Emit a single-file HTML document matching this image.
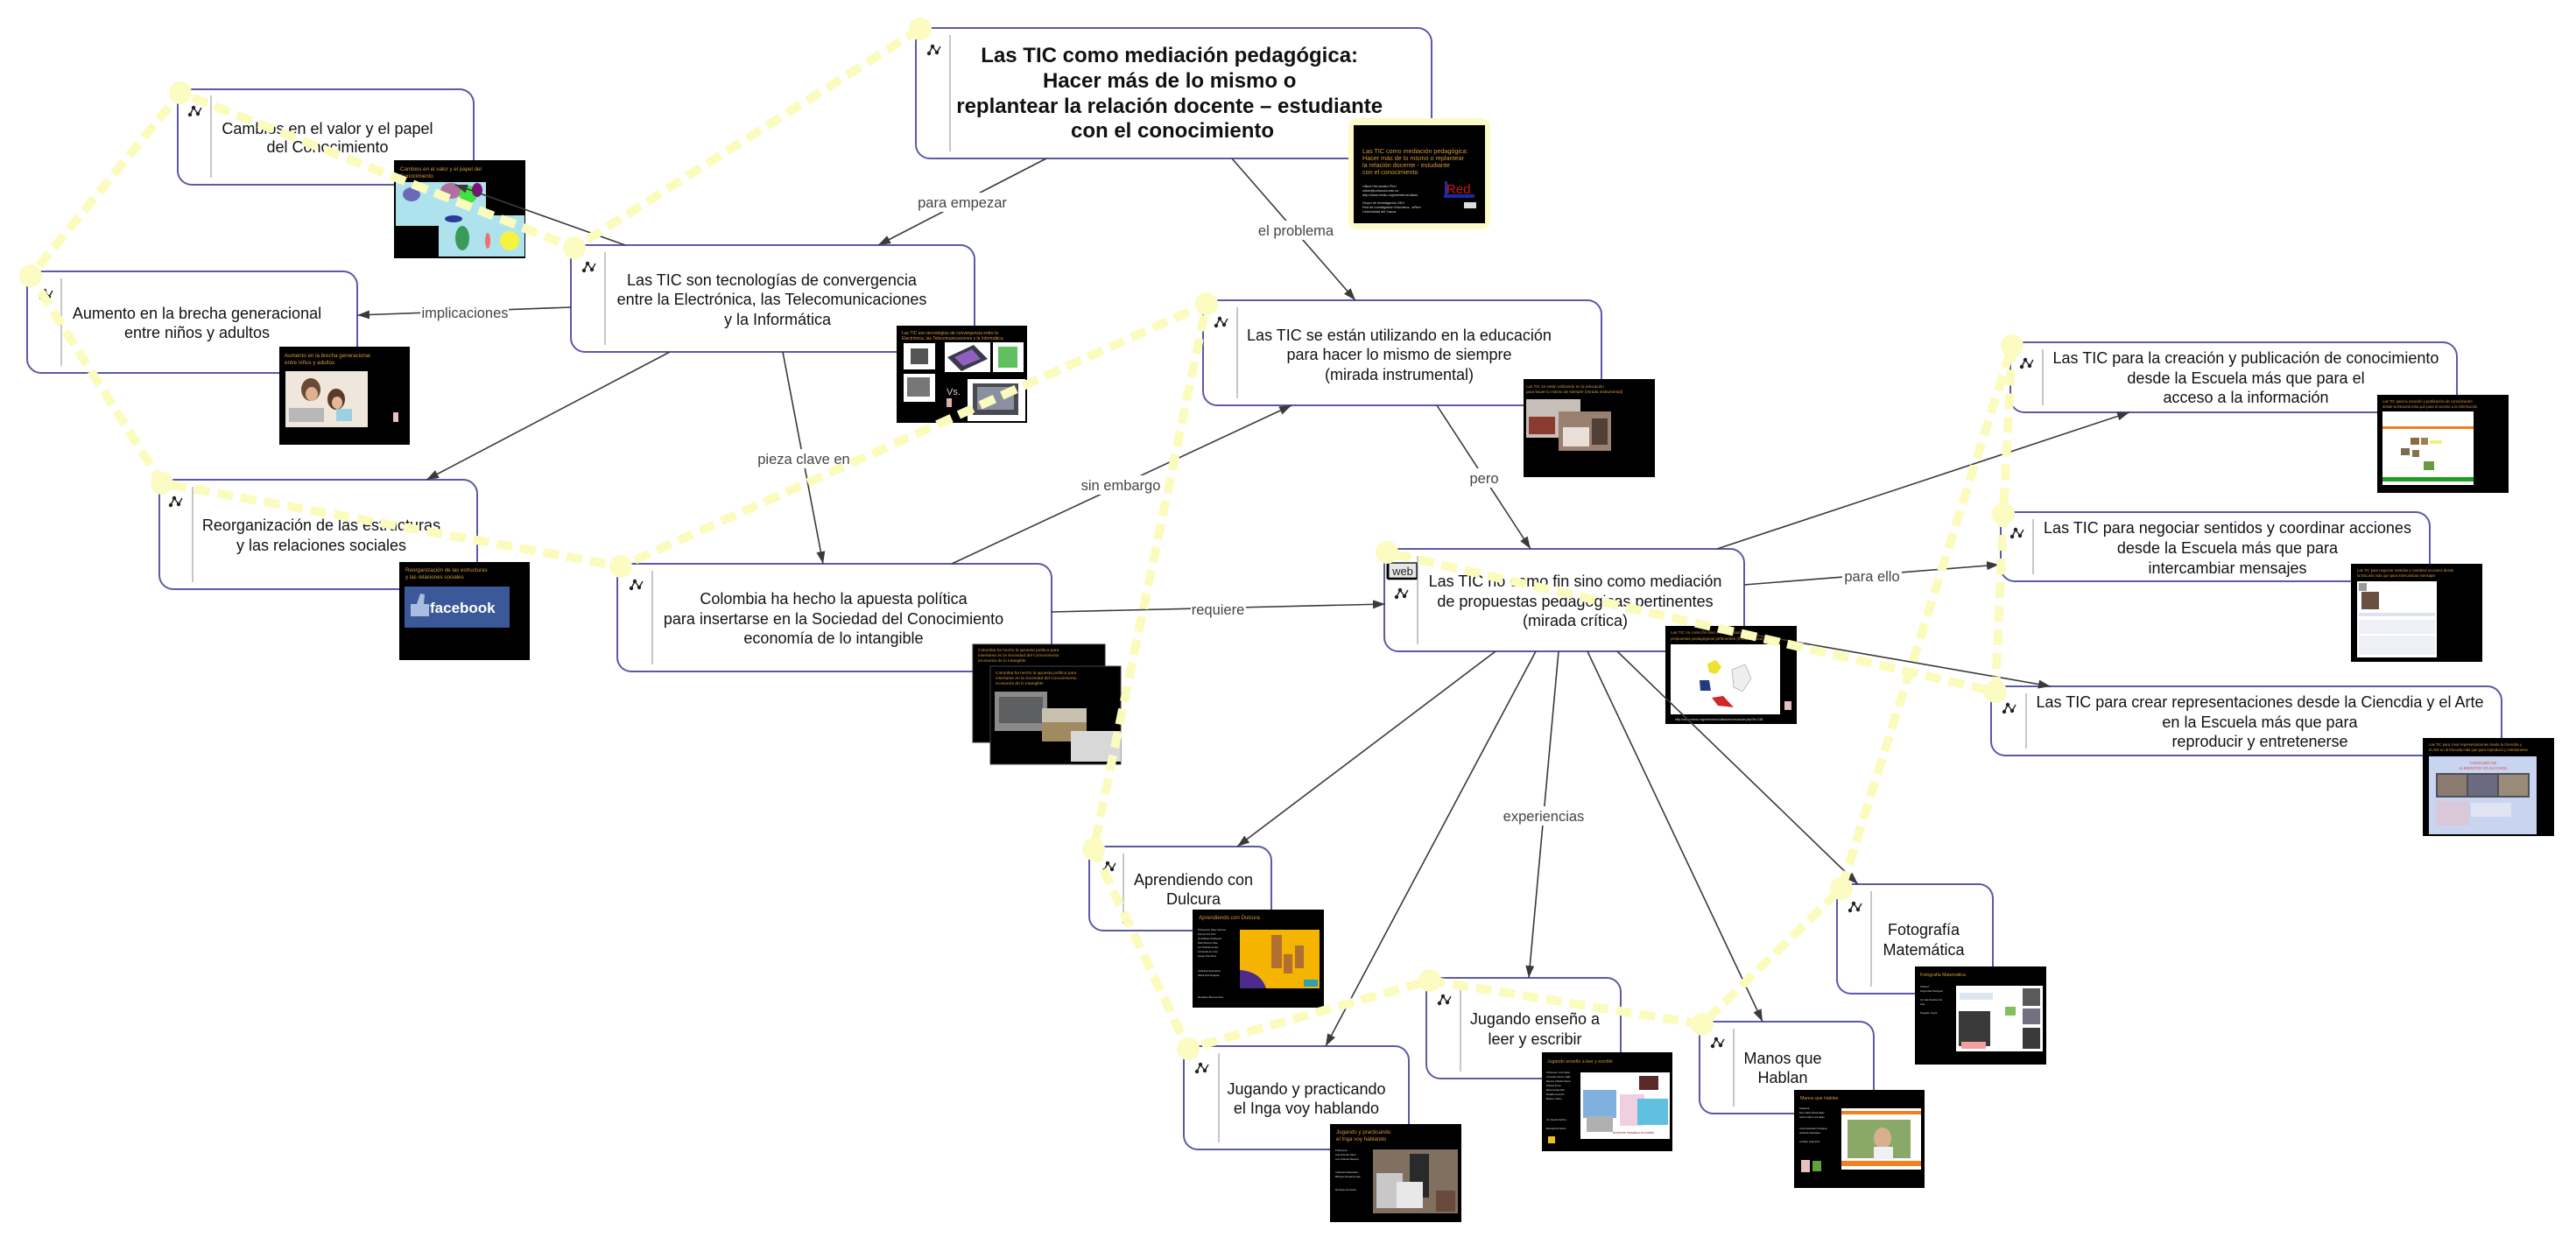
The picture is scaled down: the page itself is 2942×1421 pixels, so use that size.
<!DOCTYPE html>
<html><head><meta charset="utf-8"><style>
html,body{margin:0;padding:0;background:#fff;}
body{width:2942px;height:1421px;overflow:hidden;}
svg{display:block;font-family:"Liberation Sans",Arial,sans-serif;}
.nt{font-size:18px;fill:#111;}
.lb{font-size:16.5px;fill:#444;}
.tt{fill:#d29a3c;}
.tw{fill:#ddd;}
</style></head><body>
<svg width="2942" height="1421" viewBox="0 0 2942 1421" xmlns="http://www.w3.org/2000/svg">
<defs>
<marker id="ah" markerUnits="userSpaceOnUse" markerWidth="16" markerHeight="12" refX="14" refY="5" orient="auto">
<path d="M0,0 L14,5 L0,10 z" fill="#3a3a3a"/>
</marker>
<g id="ic"><polyline points="-6,4 -2,-4 3,3 7,-4" fill="none" stroke="#222" stroke-width="1.4"/><circle cx="-6" cy="4" r="2.2" fill="#222"/><circle cx="-2" cy="-4" r="2.2" fill="#222"/><circle cx="3" cy="3" r="2.2" fill="#222"/></g>
</defs>

<!-- ============ NODES ============ -->
<g fill="#fff" stroke="#5a5aa8" stroke-width="2">
<rect x="1046" y="32" width="589" height="149" rx="16"/>
<rect x="652" y="280" width="461" height="122" rx="16"/>
<rect x="203" y="102" width="338" height="109" rx="16"/>
<rect x="31" y="310" width="377" height="116" rx="16"/>
<rect x="182" y="548" width="363" height="125" rx="16"/>
<rect x="705" y="644" width="496" height="123" rx="16"/>
<rect x="1374" y="343" width="455" height="120" rx="16"/>
<rect x="1581" y="627" width="411" height="117" rx="16"/>
<rect x="2296" y="391" width="510" height="80" rx="16"/>
<rect x="2285" y="585" width="490" height="79" rx="16"/>
<rect x="2274" y="784" width="583" height="79" rx="16"/>
<rect x="1244" y="967" width="208" height="96" rx="16"/>
<rect x="1352" y="1195" width="257" height="118" rx="16"/>
<rect x="1629" y="1117" width="222" height="115" rx="16"/>
<rect x="1941" y="1167" width="199" height="105" rx="16"/>
<rect x="2098" y="1010" width="178" height="125" rx="16"/>
</g>
<g stroke="#b4b4b4" stroke-width="1.5">
<line x1="1085" y1="40" x2="1085" y2="173"/>
<line x1="691" y1="288" x2="691" y2="394"/>
<line x1="241" y1="109" x2="241" y2="203"/>
<line x1="70" y1="318" x2="70" y2="418"/>
<line x1="220" y1="556" x2="220" y2="665"/>
<line x1="745" y1="652" x2="745" y2="759"/>
<line x1="1413" y1="351" x2="1413" y2="455"/>
<line x1="1619" y1="635" x2="1619" y2="736"/>
<line x1="2333" y1="399" x2="2333" y2="463"/>
<line x1="2322" y1="593" x2="2322" y2="656"/>
<line x1="2314" y1="792" x2="2314" y2="855"/>
<line x1="1283" y1="975" x2="1283" y2="1055"/>
<line x1="1392" y1="1203" x2="1392" y2="1305"/>
<line x1="1668" y1="1125" x2="1668" y2="1224"/>
<line x1="1980" y1="1175" x2="1980" y2="1264"/>
<line x1="2137" y1="1018" x2="2137" y2="1127"/>
</g>
<!-- icons -->
<use href="#ic" x="1067" y="57"/>
<use href="#ic" x="673" y="305"/>
<use href="#ic" x="223" y="127"/>
<use href="#ic" x="53" y="336"/>
<use href="#ic" x="201" y="573"/>
<use href="#ic" x="727" y="668"/>
<use href="#ic" x="1395" y="368"/>
<use href="#ic" x="1601" y="678"/>
<use href="#ic" x="2315" y="415"/>
<use href="#ic" x="2304" y="609"/>
<use href="#ic" x="2295" y="809"/>
<use href="#ic" x="1267" y="990"/>
<use href="#ic" x="1373" y="1220"/>
<use href="#ic" x="1650" y="1142"/>
<use href="#ic" x="1962" y="1191"/>
<use href="#ic" x="2119" y="1036"/>
<!-- web icon -->
<rect x="1585" y="643" width="33" height="18" fill="#e6e6e6" stroke="#222" stroke-width="1.5"/>
<line x1="1585" y1="643" x2="1585" y2="661" stroke="#000" stroke-width="3"/>
<line x1="1585" y1="661" x2="1618" y2="661" stroke="#000" stroke-width="2.5"/>
<text x="1602" y="657" font-size="13" fill="#222" text-anchor="middle">web</text>

<!-- node texts -->
<text x="1339" text-anchor="middle" font-size="24" font-weight="bold" fill="#111">
<tspan x="1339" y="71">Las TIC como mediación pedagógica:</tspan>
<tspan x="1339" y="100">Hacer más de lo mismo o</tspan>
<tspan x="1339" y="129">replantear la relación docente – estudiante</tspan>
<tspan x="1339" y="157">con el conocimiento</tspan>
</text>
<text class="nt" text-anchor="middle">
<tspan x="884" y="326">Las TIC son tecnologías de convergencia</tspan>
<tspan x="884" y="348">entre la Electrónica, las Telecomunicaciones</tspan>
<tspan x="888" y="371">y la Informática</tspan>
</text>
<text class="nt" text-anchor="middle"><tspan x="374" y="153">Cambios en el valor y el papel</tspan><tspan x="374" y="174">del Conocimiento</tspan></text>
<text class="nt" text-anchor="middle"><tspan x="225" y="364">Aumento en la brecha generacional</tspan><tspan x="225" y="386">entre niños y adultos</tspan></text>
<text class="nt" text-anchor="middle"><tspan x="367" y="606">Reorganización de las estructuras</tspan><tspan x="367" y="629">y las relaciones sociales</tspan></text>
<text class="nt" text-anchor="middle"><tspan x="952" y="690">Colombia ha hecho la apuesta política</tspan><tspan x="952" y="713">para insertarse en la Sociedad del Conocimiento</tspan><tspan x="952" y="735">economía de lo intangible</tspan></text>
<text class="nt" text-anchor="middle"><tspan x="1598" y="389">Las TIC se están utilizando en la educación</tspan><tspan x="1598" y="411">para hacer lo mismo de siempre</tspan><tspan x="1598" y="434">(mirada instrumental)</tspan></text>
<text class="nt" text-anchor="middle"><tspan x="1799" y="670">Las TIC no como fin sino como mediación</tspan><tspan x="1799" y="693">de propuestas pedagógicas pertinentes</tspan><tspan x="1799" y="715">(mirada crítica)</tspan></text>
<text class="nt" text-anchor="middle"><tspan x="2565" y="415">Las TIC para la creación y publicación de conocimiento</tspan><tspan x="2565" y="438">desde la Escuela más que para el</tspan><tspan x="2565" y="460">acceso a la información</tspan></text>
<text class="nt" text-anchor="middle"><tspan x="2544" y="609">Las TIC para negociar sentidos y coordinar acciones</tspan><tspan x="2544" y="632">desde la Escuela más que para</tspan><tspan x="2544" y="655">intercambiar mensajes</tspan></text>
<text class="nt" text-anchor="middle"><tspan x="2581" y="808">Las TIC para crear representaciones desde la Ciencdia y el Arte</tspan><tspan x="2581" y="831">en la Escuela más que para</tspan><tspan x="2581" y="853">reproducir y entretenerse</tspan></text>
<text class="nt" text-anchor="middle"><tspan x="1363" y="1011">Aprendiendo con</tspan><tspan x="1363" y="1033">Dulcura</tspan></text>
<text class="nt" text-anchor="middle"><tspan x="1492" y="1250">Jugando y practicando</tspan><tspan x="1492" y="1272">el Inga voy hablando</tspan></text>
<text class="nt" text-anchor="middle"><tspan x="1753" y="1170">Jugando enseño a</tspan><tspan x="1753" y="1193">leer y escribir</tspan></text>
<text class="nt" text-anchor="middle"><tspan x="2036" y="1215">Manos que</tspan><tspan x="2036" y="1237">Hablan</tspan></text>
<text class="nt" text-anchor="middle"><tspan x="2197" y="1068">Fotografía</tspan><tspan x="2197" y="1091">Matemática</tspan></text>

<!-- ============ THUMBNAILS ============ -->
<!-- main -->
<rect x="1540" y="135" width="162" height="127" rx="10" fill="#fbfbc6"/>
<rect x="1546" y="143" width="150" height="112" fill="#000"/>
<text class="tt" font-size="7.2"><tspan x="1556" y="175">Las TIC como mediación pedagógica:</tspan><tspan x="1556" y="183">Hacer más de lo mismo o replantear</tspan><tspan x="1556" y="191">la relación docente - estudiante</tspan><tspan x="1556" y="199">con el conocimiento</tspan></text>
<text class="tw" font-size="3.8"><tspan x="1556" y="214">Ulises Hernández Pino</tspan><tspan x="1556" y="219">ulises@unicauca.edu.co</tspan><tspan x="1556" y="224">http://www.eredu.org/miembros/ulises</tspan><tspan x="1556" y="233">Grupo de Investigación GEC</tspan><tspan x="1556" y="238">Red de Investigación Educativa - ieRed</tspan><tspan x="1556" y="243">Universidad del Cauca</tspan></text>
<text x="1652" y="221" font-size="15" fill="#d01818">Red</text>
<rect x="1650" y="207" width="3" height="15" fill="#2030a0"/>
<rect x="1649" y="222" width="35" height="4" fill="#1a2aa0"/>
<rect x="1672" y="231" width="14" height="7" fill="#ddd"/>

<!-- Cambios -->
<rect x="450" y="183" width="150" height="112" fill="#000"/>
<text class="tt" font-size="6.2"><tspan x="457" y="195">Cambios en el valor y el papel del</tspan><tspan x="457" y="203">Conocimiento</tspan></text>
<rect x="452" y="208" width="103" height="50" fill="#aee3ee"/>
<ellipse cx="470" cy="222" rx="10" ry="8" fill="#6a6ab8"/>
<ellipse cx="515" cy="218" rx="12" ry="9" fill="#b070a0"/>
<ellipse cx="535" cy="222" rx="10" ry="10" fill="#40e040"/>
<ellipse cx="545" cy="217" rx="6" ry="8" fill="#801080"/>
<rect x="501" y="246" width="98" height="47" fill="#aee3ee"/>
<ellipse cx="528" cy="272" rx="8" ry="14" fill="#3a9a5a"/>
<ellipse cx="582" cy="275" rx="11" ry="11" fill="#f4f440"/>
<ellipse cx="557" cy="275" rx="3" ry="9" fill="#f07070"/>
<ellipse cx="518" cy="250" rx="10" ry="4" fill="#2a3a9a"/>

<!-- Aumento -->
<rect x="319" y="396" width="149" height="112" fill="#000"/>
<text class="tt" font-size="6.2"><tspan x="325" y="408">Aumento en la brecha generacional</tspan><tspan x="325" y="416">entre niños y adultos</tspan></text>
<rect x="326" y="424" width="94" height="64" fill="#efe6dc"/>
<ellipse cx="355" cy="445" rx="11" ry="13" fill="#6b4a35"/>
<ellipse cx="384" cy="456" rx="10" ry="12" fill="#5a3a28"/>
<rect x="330" y="466" width="40" height="16" fill="#b8b8b8"/>
<ellipse cx="356" cy="450" rx="7" ry="8" fill="#e0b090"/>
<ellipse cx="385" cy="460" rx="6" ry="7" fill="#e6b898"/>
<rect x="384" y="467" width="18" height="14" fill="#9ad0e0"/>
<rect x="449" y="471" width="6" height="11" fill="#e8c0c0"/>

<!-- Conv -->
<rect x="1024" y="372" width="149" height="111" fill="#000"/>
<text class="tt" font-size="5"><tspan x="1030" y="382">Las TIC son tecnologías de convergencia entre la</tspan><tspan x="1030" y="388">Electrónica, las Telecomunicaciones y la Informática</tspan></text>
<rect x="1032" y="392" width="36" height="30" fill="#fff"/>
<rect x="1040" y="398" width="20" height="18" fill="#555"/>
<rect x="1079" y="391" width="52" height="34" fill="#fff"/>
<polygon points="1082,408 1112,394 1128,410 1098,424" fill="#3a3a4a"/>
<polygon points="1090,408 1110,399 1120,410 1100,418" fill="#9060c0"/>
<rect x="1134" y="391" width="35" height="34" fill="#fff"/>
<rect x="1140" y="396" width="22" height="24" fill="#60c060"/>
<rect x="1032" y="427" width="36" height="32" fill="#fff"/>
<rect x="1036" y="431" width="26" height="22" fill="#777"/>
<text x="1081" y="451" font-size="11" fill="#ccc">Vs.</text>
<rect x="1081" y="455" width="6" height="10" fill="#e0b0b0"/>
<rect x="1105" y="433" width="66" height="48" fill="#fff"/>
<rect x="1111" y="438" width="52" height="36" fill="#4a4a52"/>
<rect x="1116" y="442" width="42" height="26" fill="#8a90a0"/>

<!-- Reorg -->
<rect x="456" y="642" width="149" height="112" fill="#000"/>
<text class="tt" font-size="6.2"><tspan x="463" y="653">Reorganización de las estructuras</tspan><tspan x="463" y="661">y las relaciones sociales</tspan></text>
<rect x="462" y="670" width="120" height="47" fill="#3b5998"/>
<path d="M469,702 L469,690 L476,690 L480,678 L485,679 L484,690 L490,690 L490,704 L469,704 z" fill="#a8bde0"/>
<text x="491" y="700" font-size="17" font-weight="bold" fill="#fff">facebook</text>

<!-- Colombia thumbnails -->
<rect x="1111" y="736" width="151" height="112" fill="#000" stroke="#333" stroke-width="1"/>
<text class="tt" font-size="4.8"><tspan x="1117" y="744">Colombia ha hecho la apuesta política para</tspan><tspan x="1117" y="750">insertarse en la Sociedad del Conocimiento</tspan><tspan x="1117" y="756">economía de lo intangible</tspan></text>
<rect x="1131" y="761" width="149" height="112" fill="#000" stroke="#444" stroke-width="1"/>
<text class="tt" font-size="4.8"><tspan x="1137" y="770">Colombia ha hecho la apuesta política para</tspan><tspan x="1137" y="776">insertarse en la Sociedad del Conocimiento</tspan><tspan x="1137" y="782">economía de lo intangible</tspan></text>
<rect x="1136" y="790" width="60" height="45" fill="#8a8a88"/>
<rect x="1141" y="796" width="50" height="30" fill="#5d5f60"/>
<rect x="1190" y="809" width="51" height="38" fill="#a08a60"/>
<rect x="1190" y="809" width="51" height="16" fill="#c8c0b0"/>
<rect x="1223" y="835" width="57" height="35" fill="#d8d8d8"/>

<!-- SeEstan -->
<rect x="1740" y="433" width="150" height="112" fill="#000"/>
<text class="tt" font-size="4.6"><tspan x="1743" y="443">Las TIC se están utilizando en la educación</tspan><tspan x="1743" y="449">para hacer lo mismo de siempre (mirada instrumental)</tspan></text>
<rect x="1743" y="456" width="62" height="44" fill="#c8c0b8"/>
<rect x="1746" y="476" width="30" height="20" fill="#8a3a30"/>
<rect x="1780" y="470" width="60" height="45" fill="#9a8070"/>
<rect x="1785" y="488" width="30" height="22" fill="#e8e0d8"/>
<rect x="1818" y="478" width="18" height="30" fill="#504038"/>

<!-- NoComo -->
<rect x="1902" y="715" width="150" height="112" fill="#000"/>
<text class="tt" font-size="4.6"><tspan x="1908" y="724">Las TIC no como fin sino como mediación de</tspan><tspan x="1908" y="731">propuestas pedagógicas pertinentes (mirada crítica)</tspan></text>
<rect x="1908" y="736" width="125" height="80" fill="#fff"/>
<polygon points="1950,758 1960,754 1966,762 1960,770 1952,768" fill="#f0e030"/>
<polygon points="1941,777 1952,777 1954,789 1942,789" fill="#223a80"/>
<polygon points="1955,797 1968,795 1980,808 1962,806" fill="#d02828"/>
<polygon points="1978,765 1993,759 2000,775 1990,790 1980,785" fill="#eee" stroke="#999" stroke-width="0.6"/>
<rect x="2038" y="801" width="8" height="10" fill="#e0c0c0"/>
<text x="1913" y="823" font-size="3.6" fill="#ddd">http://www.eredu.org/miembros/ulises/recursos/ver.php?id=138</text>

<!-- Creacion -->
<rect x="2715" y="451" width="150" height="112" fill="#000"/>
<text class="tt" font-size="4.2"><tspan x="2721" y="460">Las TIC para la creación y publicación de conocimiento</tspan><tspan x="2721" y="466">desde la Escuela más que para el acceso a la información</tspan></text>
<rect x="2721" y="470" width="104" height="84" fill="#fff"/>
<rect x="2721" y="487" width="104" height="3" fill="#f08020"/>
<rect x="2721" y="545" width="104" height="5" fill="#20a020"/>
<rect x="2753" y="500" width="10" height="8" fill="#8a6a40"/>
<rect x="2765" y="500" width="8" height="8" fill="#a08050"/>
<rect x="2775" y="503" width="14" height="4" fill="#f0f080"/>
<rect x="2742" y="512" width="10" height="8" fill="#7a6a50"/>
<rect x="2755" y="514" width="8" height="8" fill="#8a7050"/>
<rect x="2768" y="527" width="12" height="10" fill="#6a9a40"/>

<!-- Negociar -->
<rect x="2685" y="644" width="150" height="112" fill="#000"/>
<text class="tt" font-size="4.2"><tspan x="2692" y="653">Las TIC para negociar sentidos y coordinar acciones desde</tspan><tspan x="2692" y="659">la Escuela más que para intercambiar mensajes</tspan></text>
<rect x="2692" y="664" width="91" height="87" fill="#fff"/>
<rect x="2694" y="666" width="9" height="9" fill="#999"/>
<rect x="2697" y="676" width="20" height="20" fill="#6a5040"/>
<rect x="2694" y="700" width="87" height="4" fill="#dde4f0"/>
<rect x="2694" y="708" width="87" height="16" fill="#eef0f6"/>
<rect x="2694" y="726" width="87" height="22" fill="#eef0f6"/>

<!-- Crear -->
<rect x="2767" y="843" width="150" height="112" fill="#000"/>
<text class="tt" font-size="4.2"><tspan x="2774" y="852">Las TIC para crear representaciones desde la Ciencdia y</tspan><tspan x="2774" y="858">el Arte en la Escuela más que para reproducir y entretenerse</tspan></text>
<rect x="2774" y="864" width="123" height="89" fill="#c8d4f0"/>
<text x="2836" y="873" font-size="4.5" fill="#d05050" text-anchor="middle">CONSUMO DE</text>
<text x="2836" y="879" font-size="4.5" fill="#d05050" text-anchor="middle">ALIMENTOS VS ALCOHOL</text>
<rect x="2782" y="883" width="107" height="28" fill="#505058"/>
<rect x="2784" y="885" width="33" height="24" fill="#8a7a70"/>
<rect x="2819" y="885" width="33" height="24" fill="#6a6a80"/>
<rect x="2854" y="885" width="33" height="24" fill="#9a8a78"/>
<rect x="2782" y="915" width="38" height="28" fill="#d8c8d8"/>
<rect x="2822" y="917" width="46" height="16" fill="#e0e4f4"/>

<!-- Aprend -->
<rect x="1362" y="1039" width="150" height="112" fill="#000"/>
<text class="tt" font-size="6.2" x="1369" y="1050">Aprendiendo con Dulcura</text>
<text class="tw" font-size="2.8"><tspan x="1368" y="1063">Profesores: Mary Carmen</tspan><tspan x="1368" y="1068">Fanny Inés Cruz</tspan><tspan x="1368" y="1073">Guadalupe Rodríguez</tspan><tspan x="1368" y="1078">Ruth Moreno Días</tspan><tspan x="1368" y="1083">Luz Patricia Cortez</tspan><tspan x="1368" y="1088">Fernando de Lima</tspan><tspan x="1368" y="1093">Sergio Díaz Ruiz</tspan><tspan x="1368" y="1110">Institución Educativa</tspan><tspan x="1368" y="1115">Santa Ana Popayán</tspan><tspan x="1368" y="1140">Municipio Buenos Aires</tspan></text>
<rect x="1416" y="1062" width="91" height="67" fill="#f4b400"/>
<path d="M1416,1108 Q1440,1110 1446,1129 L1416,1129 z" fill="#4a2a8a"/>
<rect x="1452" y="1068" width="12" height="38" fill="#b07030"/>
<rect x="1466" y="1090" width="10" height="22" fill="#b07030"/>
<rect x="1479" y="1080" width="10" height="26" fill="#b07030"/>
<rect x="1489" y="1119" width="16" height="8" fill="#30a0b0"/>

<!-- Inga -->
<rect x="1519" y="1284" width="150" height="112" fill="#000"/>
<text class="tt" font-size="6.2"><tspan x="1526" y="1295">Jugando y practicando</tspan><tspan x="1526" y="1303">el Inga voy hablando</tspan></text>
<text class="tw" font-size="2.8"><tspan x="1525" y="1315">Profesores:</tspan><tspan x="1525" y="1320">Ana Victoria Chicre</tspan><tspan x="1525" y="1325">Luis Orlando Mavisoy</tspan><tspan x="1525" y="1340">Institución Educativa</tspan><tspan x="1525" y="1345">Bilingüe Artesanal Inga</tspan><tspan x="1525" y="1360">Municipio El Tambo</tspan></text>
<rect x="1568" y="1313" width="97" height="73" fill="#807060"/>
<rect x="1572" y="1340" width="30" height="40" fill="#c8c8c8"/>
<rect x="1610" y="1318" width="22" height="50" fill="#2a2a2a"/>
<rect x="1595" y="1350" width="30" height="30" fill="#e8e8e8"/>
<rect x="1640" y="1360" width="22" height="24" fill="#6a4a3a"/>

<!-- Ense -->
<rect x="1761" y="1202" width="149" height="113" fill="#000"/>
<text class="tt" font-size="5.2" x="1767" y="1214">Jugando enseño a leer y escribir</text>
<text class="tw" font-size="2.6"><tspan x="1766" y="1226">Profesores: Luis Carlos</tspan><tspan x="1766" y="1231">Consuelo Gómez, Idalia</tspan><tspan x="1766" y="1236">Maryluz Ordóñez Sarria</tspan><tspan x="1766" y="1241">Rubiela Torres</tspan><tspan x="1766" y="1246">María Amalia Ruiz</tspan><tspan x="1766" y="1251">Rosalba Guerrero</tspan><tspan x="1766" y="1256">Marleny Castro</tspan><tspan x="1766" y="1280">I.E. Nuestra Señora</tspan><tspan x="1766" y="1290">Municipio El Tambo</tspan></text>
<rect x="1805" y="1225" width="102" height="76" fill="#fff"/>
<rect x="1808" y="1245" width="38" height="32" fill="#80b0e0"/>
<rect x="1850" y="1250" width="28" height="36" fill="#f0d0e0"/>
<rect x="1870" y="1255" width="35" height="30" fill="#60c0e0"/>
<rect x="1872" y="1229" width="22" height="16" fill="#5a2a2a"/>
<rect x="1812" y="1275" width="30" height="18" fill="#b0b0b0"/>
<text x="1842" y="1295" font-size="3.5" fill="#a02040">Ambiente educativo en Ambito</text>
<rect x="1768" y="1298" width="8" height="8" fill="#f0c020"/>

<!-- Manos -->
<rect x="2049" y="1245" width="149" height="112" fill="#000"/>
<text class="tt" font-size="5.2" x="2056" y="1256">Manos que Hablan</text>
<text class="tw" font-size="2.6"><tspan x="2055" y="1267">Profesora:</tspan><tspan x="2055" y="1272">Nury Isabel Rosas Rojas</tspan><tspan x="2055" y="1277">Héctor Fabio Luna Salas</tspan><tspan x="2055" y="1290">Centro Educativo Paraguas</tspan><tspan x="2055" y="1295">Institución Educativa</tspan><tspan x="2055" y="1305">La Plata, Huila 2011</tspan></text>
<rect x="2103" y="1266" width="91" height="70" fill="#fff"/>
<rect x="2103" y="1269" width="91" height="4" fill="#f08020"/>
<rect x="2103" y="1326" width="91" height="6" fill="#f08020"/>
<rect x="2110" y="1279" width="72" height="44" fill="#8aa868"/>
<ellipse cx="2150" cy="1300" rx="10" ry="12" fill="#d8b090"/>
<rect x="2140" y="1310" width="22" height="14" fill="#f0f0f0"/>
<rect x="2057" y="1325" width="10" height="14" fill="#e8c0c0"/>
<rect x="2070" y="1326" width="10" height="12" fill="#60a040"/>

<!-- Foto -->
<rect x="2187" y="1104" width="150" height="112" fill="#000"/>
<text class="tt" font-size="5.2" x="2193" y="1115">Fotografía Matemática</text>
<text class="tw" font-size="2.6"><tspan x="2193" y="1128">Profesor:</tspan><tspan x="2193" y="1133">Sergio Díaz Rodríguez</tspan><tspan x="2193" y="1143">I.E. San Francisco de</tspan><tspan x="2193" y="1148">Asís</tspan><tspan x="2193" y="1158">Popayán, Cauca</tspan></text>
<rect x="2234" y="1126" width="99" height="75" fill="#fff"/>
<rect x="2238" y="1134" width="38" height="8" fill="#dde6ee"/>
<rect x="2237" y="1155" width="36" height="40" fill="#3a3a3a"/>
<rect x="2290" y="1150" width="12" height="10" fill="#80c060"/>
<rect x="2310" y="1129" width="20" height="20" fill="#5a5a5a"/>
<rect x="2310" y="1152" width="20" height="18" fill="#707080"/>
<rect x="2310" y="1174" width="20" height="24" fill="#3a3a3a"/>
<rect x="2240" y="1190" width="28" height="8" fill="#f0a0a0"/>

<!-- ============ CONNECTORS ============ -->
<g stroke="#3a3a3a" stroke-width="1.6" fill="none" marker-end="url(#ah)">
<line x1="1195" y1="181" x2="1003" y2="280"/>
<line x1="1407" y1="181" x2="1548" y2="343"/>
<line x1="714" y1="280" x2="520" y2="211"/>
<line x1="652" y1="351" x2="408" y2="360"/>
<line x1="765" y1="402" x2="487" y2="548"/>
<line x1="894" y1="402" x2="940" y2="644"/>
<line x1="1087" y1="644" x2="1475" y2="463"/>
<line x1="1201" y1="699" x2="1582" y2="690"/>
<line x1="1641" y1="463" x2="1748" y2="627"/>
<line x1="1961" y1="627" x2="2432" y2="471"/>
<line x1="1992" y1="668" x2="2283" y2="645"/>
<line x1="1992" y1="723" x2="2342" y2="784"/>
<line x1="1708" y1="744" x2="1413" y2="967"/>
<line x1="1754" y1="744" x2="1514" y2="1195"/>
<line x1="1780" y1="744" x2="1746" y2="1117"/>
<line x1="1813" y1="744" x2="2013" y2="1167"/>
<line x1="1847" y1="744" x2="2122" y2="1010"/>
</g>
<!-- labels -->
<g fill="#fff">
<rect x="1046" y="220" width="106" height="22"/>
<rect x="1435" y="252" width="90" height="22"/>
<rect x="480" y="346" width="101" height="22"/>
<rect x="864" y="513" width="108" height="22"/>
<rect x="1233" y="543" width="95" height="22"/>
<rect x="1360" y="685" width="63" height="22"/>
<rect x="1676" y="535" width="37" height="22"/>
<rect x="2104" y="647" width="68" height="22"/>
<rect x="1715" y="921" width="96" height="22"/>
</g>
<g class="lb" text-anchor="middle">
<text x="1099" y="237">para empezar</text>
<text x="1480" y="269">el problema</text>
<text x="531" y="363">implicaciones</text>
<text x="918" y="530">pieza clave en</text>
<text x="1280" y="560">sin embargo</text>
<text x="1391" y="702">requiere</text>
<text x="1695" y="552">pero</text>
<text x="2138" y="664">para ello</text>
<text x="1763" y="938">experiencias</text>
</g>

<!-- ============ YELLOW PATH ============ -->
<polyline points="1051,33 656,283 206,106 35,315 185,552 709,647 1378,347 1249,970 1357,1198 1633,1120 1944,1170 2103,1015 2298,395 2288,587 2279,790 1584,631" fill="none" stroke="#fbfbbe" stroke-width="10" stroke-dasharray="18 9" stroke-linejoin="round"/>
<g fill="#fbfbc2">
<circle cx="1051" cy="33" r="13"/>
<circle cx="656" cy="283" r="13"/>
<circle cx="206" cy="106" r="13"/>
<circle cx="35" cy="315" r="13"/>
<circle cx="185" cy="552" r="13"/>
<circle cx="709" cy="647" r="13"/>
<circle cx="1378" cy="347" r="13"/>
<circle cx="1249" cy="970" r="13"/>
<circle cx="1357" cy="1198" r="13"/>
<circle cx="1633" cy="1120" r="13"/>
<circle cx="1944" cy="1170" r="13"/>
<circle cx="2103" cy="1015" r="13"/>
<circle cx="2298" cy="395" r="13"/>
<circle cx="2288" cy="587" r="13"/>
<circle cx="2279" cy="790" r="13"/>
<circle cx="1584" cy="631" r="13"/>
</g>
</svg>
</body></html>
